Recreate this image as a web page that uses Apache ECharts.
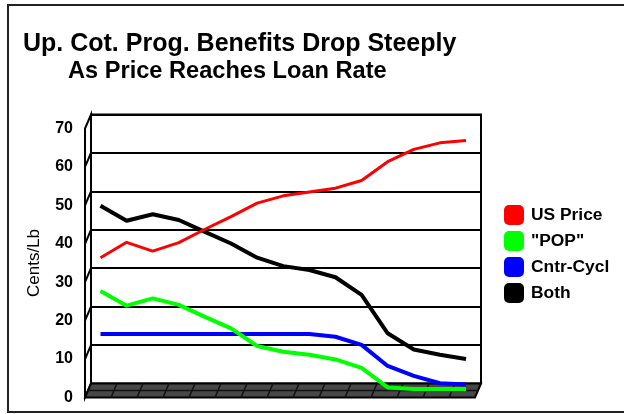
<!DOCTYPE html>
<html>
<head>
<meta charset="utf-8">
<script src="https://cdn.jsdelivr.net/npm/echarts@6/dist/echarts.min.js"></script>
<style>
  html, body { margin: 0; padding: 0; background: #fff; }
  #chart { width: 624px; height: 414px; }
</style>
</head>
<body>
<div id="chart"></div>
<script>
// Price steps along the horizontal axis (not labelled)
const categories = ['1', '2', '3', '4', '5', '6', '7', '8', '9', '10', '11', '12', '13', '14', '15'];

// Cents per pound
const usPrice  = [34.2, 38.2, 35.9, 38.1, 41.6, 44.9, 48.4, 50.3, 51.3, 52.3, 54.3, 59.2, 62.4, 64.1, 64.7];
const pop      = [25.5, 21.7, 23.6, 21.9, 18.8, 15.8, 11.2, 9.7, 8.9, 7.7, 5.5, 0.4, 0, 0, 0];
const cntrCycl = [14.3, 14.3, 14.3, 14.3, 14.3, 14.3, 14.3, 14.3, 14.3, 13.6, 11.5, 6.0, 3.4, 1.5, 1.2];
const both     = [47.7, 43.8, 45.5, 44.0, 40.9, 37.9, 34.2, 32.0, 31.0, 29.1, 24.5, 14.5, 10.3, 8.9, 7.8];

const yMin = 0, yMax = 70, yStep = 10;

const FONT = '"Liberation Sans", Arial, sans-serif';
const DX = -6, DY = 14;   // depth offset of the front edge of the box

const chart = echarts.init(document.getElementById('chart'), null, { renderer: 'canvas' });

const hiddenCat = (grid, gap) => ({
  type: 'category', gridIndex: grid, data: categories, boundaryGap: gap, show: false
});

const option = {
  backgroundColor: '#fff',
  animation: false,
  title: [
    { text: 'Up. Cot. Prog. Benefits Drop Steeply', left: 18, top: 27,
      textStyle: { fontFamily: FONT, fontWeight: 'bold', fontSize: 25, color: '#000' } },
    { text: 'As Price Reaches Loan Rate', left: 63, top: 54,
      textStyle: { fontFamily: FONT, fontWeight: 'bold', fontSize: 23.6, color: '#000' } }
  ],
  legend: {
    orient: 'vertical', left: 504, top: 205, padding: 0,
    itemWidth: 20, itemHeight: 20, itemGap: 6,
    icon: 'roundRect',
    textStyle: { fontFamily: FONT, fontWeight: 'bold', fontSize: 17.4, color: '#000', padding: [0, 0, 0, 2] },
    data: ['US Price', '"POP"', 'Cntr-Cycl', 'Both']
  },
  grid: [
    // back wall
    { left: 91, top: 114.5, width: 390, height: 269, show: true, borderColor: '#000', borderWidth: 2, backgroundColor: 'transparent' },
    // plotting plane for the lines
    { left: 100.5, top: 120.2, width: 365.5, height: 268.8 },
    // front edge carrying the value labels
    { left: 85, top: 128.5, width: 390, height: 269 }
  ],
  xAxis: [hiddenCat(0, true), hiddenCat(1, false), hiddenCat(2, true)],
  yAxis: [
    { type: 'value', gridIndex: 0, min: yMin, max: yMax, interval: yStep,
      axisLine: { show: false }, axisTick: { show: false }, axisLabel: { show: false },
      splitLine: { show: true, lineStyle: { color: '#000', width: 2 } } },
    { type: 'value', gridIndex: 1, min: yMin, max: yMax, interval: yStep, show: false, splitLine: { show: false } },
    { type: 'value', gridIndex: 2, min: yMin, max: yMax, interval: yStep,
      axisLine: { show: false }, axisTick: { show: false }, splitLine: { show: false },
      axisLabel: { margin: 12, fontFamily: FONT, fontWeight: 'bold', fontSize: 16, color: '#000' },
      name: 'Cents/Lb', nameLocation: 'middle', nameGap: 42, nameRotate: 90,
      nameTextStyle: { fontFamily: FONT, fontSize: 17, color: '#000' } }
  ],
  series: [
    { name: 'US Price', type: 'line', xAxisIndex: 1, yAxisIndex: 1, data: usPrice, z: 4,
      showSymbol: false, color: '#ff0000', lineStyle: { width: 3, color: '#ff0000' } },
    { name: '"POP"', type: 'line', xAxisIndex: 1, yAxisIndex: 1, data: pop, z: 4,
      showSymbol: false, color: '#00ff00', lineStyle: { width: 4, color: '#00ff00' } },
    { name: 'Cntr-Cycl', type: 'line', xAxisIndex: 1, yAxisIndex: 1, data: cntrCycl, z: 3,
      showSymbol: false, color: '#0000ff', lineStyle: { width: 4, color: '#0000ff' } },
    { name: 'Both', type: 'line', xAxisIndex: 1, yAxisIndex: 1, data: both, z: 3,
      showSymbol: false, color: '#000000', lineStyle: { width: 4, color: '#000000' } }
  ]
};

chart.setOption(option);

// 3-D box: left side wall, floor with cell pattern, outer frame
function buildFrame() {
  const yAt = v => chart.convertToPixel({ yAxisIndex: 0 }, v);
  const x0 = 91, x1 = 481;
  const yTop = yAt(yMax), yBot = yAt(yMin);
  const els = [];

  els.push({ type: 'rect', z: 0, silent: true,
    shape: { x: 8, y: 5, width: 700, height: 407 },
    style: { fill: 'none', stroke: '#222', lineWidth: 2 } });

  // left side wall
  els.push({ type: 'polygon', z: 1, silent: true,
    shape: { points: [[x0, yTop], [x0, yBot], [x0 + DX, yBot + DY], [x0 + DX, yTop + DY]] },
    style: { fill: '#fff', stroke: '#000', lineWidth: 2 } });
  for (let v = yMin + yStep; v < yMax; v += yStep) {
    const y = yAt(v);
    els.push({ type: 'line', z: 1, silent: true,
      shape: { x1: x0, y1: y, x2: x0 + DX, y2: y + DY },
      style: { stroke: '#000', lineWidth: 2 } });
  }

  // floor
  els.push({ type: 'polygon', z: 1, silent: true,
    shape: { points: [[x0, yBot], [x1, yBot], [x1 + DX, yBot + DY], [x0 + DX, yBot + DY]] },
    style: { fill: '#474747', stroke: '#000', lineWidth: 2 } });
  els.push({ type: 'line', z: 1, silent: true,
    shape: { x1: x0 + DX / 2, y1: yBot + DY / 2, x2: x1 + DX / 2, y2: yBot + DY / 2 },
    style: { stroke: '#111', lineWidth: 1.5 } });
  const band = (x1 - x0) / categories.length;
  for (let i = 1; i < categories.length; i++) {
    const xb = x0 + i * band;
    els.push({ type: 'line', z: 1, silent: true,
      shape: { x1: xb, y1: yBot, x2: xb + DX, y2: yBot + DY },
      style: { stroke: '#111', lineWidth: 1.5 } });
  }
  chart.setOption({ graphic: { elements: els } });
}
buildFrame();
</script>
</body>
</html>
